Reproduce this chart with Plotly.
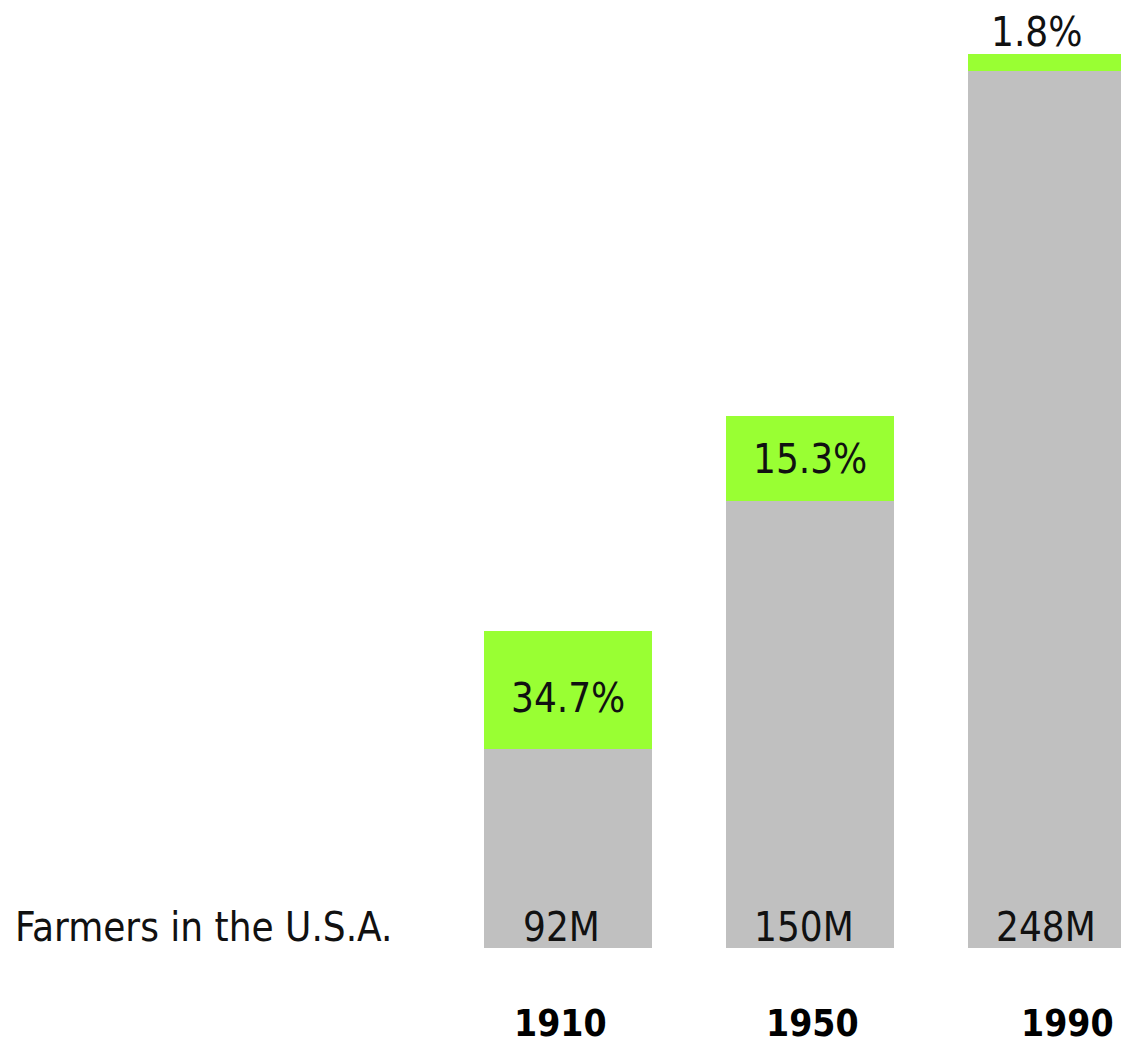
import plotly.graph_objects as go

years = ["1910", "1950", "1990"]
population_m = [92, 150, 248]
farmer_pct = [34.7, 15.3, 1.8]
pop_labels = ["92M", "150M", "248M"]
pct_labels = ["34.7%", "15.3%", "1.8%"]

farmers_m = [p * f / 100 for p, f in zip(population_m, farmer_pct)]
others_m = [p - f for p, f in zip(population_m, farmers_m)]

FONT = "DejaVu Sans Condensed, Liberation Sans Narrow, Arial Narrow, sans-serif"
GRAY = "#c0c0c0"
GREEN = "#99ff33"
Y0 = 6.3
BW = 0.694
FS = 40
idx = list(range(len(years)))

fig = go.Figure()
fig.add_trace(go.Bar(x=idx, y=others_m, marker=dict(color=GRAY, line=dict(width=0)),
                     width=BW, hoverinfo="skip"))
fig.add_trace(go.Bar(x=idx, y=farmers_m, marker=dict(color=GREEN, line=dict(width=0)),
                     width=BW, hoverinfo="skip"))

ann = []
ann.append(dict(x=0.0, xref="paper", y=Y0, yref="y", text="Farmers in the U.S.A.",
                xanchor="left", yanchor="bottom", xshift=13, yshift=-4, showarrow=False,
                font=dict(family=FONT, size=FS, color="#111111")))
for i in idx:
    ann.append(dict(x=i, y=Y0, text=pop_labels[i], xanchor="center", yanchor="bottom",
                    xshift=-6, yshift=-4, showarrow=False,
                    font=dict(family=FONT, size=FS, color="#111111")))
    if i < 2:
        ann.append(dict(x=i, y=others_m[i] + farmers_m[i] / 2, text=pct_labels[i],
                        xanchor="center", yanchor="middle", showarrow=False,
                        yshift=-8 if i == 0 else 0,
                        font=dict(family=FONT, size=FS, color="#111111")))
    else:
        ann.append(dict(x=i, y=population_m[i], text=pct_labels[i],
                        xanchor="center", yanchor="bottom", xshift=-15, yshift=-3, showarrow=False,
                        font=dict(family=FONT, size=FS, color="#111111")))
    ann.append(dict(x=i, y=0, yref="paper", text="<b>" + years[i] + "</b>",
                    xanchor="center", yanchor="top", xshift=[-7, 3, 16][i], yshift=-52,
                    showarrow=False, font=dict(family=FONT, size=37, color="#000000")))

fig.update_layout(
    barmode="stack",
    width=1121, height=1047,
    margin=dict(l=0, r=0, t=54, b=99, pad=0),
    paper_bgcolor="white", plot_bgcolor="white",
    showlegend=False,
    hovermode=False,
    xaxis=dict(range=[-2.345, 2.287], showticklabels=False, showgrid=False,
               zeroline=False, showline=False, ticks=""),
    yaxis=dict(range=[Y0, 248], showticklabels=False, showgrid=False,
               zeroline=False, showline=False, ticks=""),
    annotations=ann,
)
fig.write_html("out.html",
               config={"displayModeBar": False},
               post_script="document.body.style.margin='0';document.body.style.overflow='hidden';")
